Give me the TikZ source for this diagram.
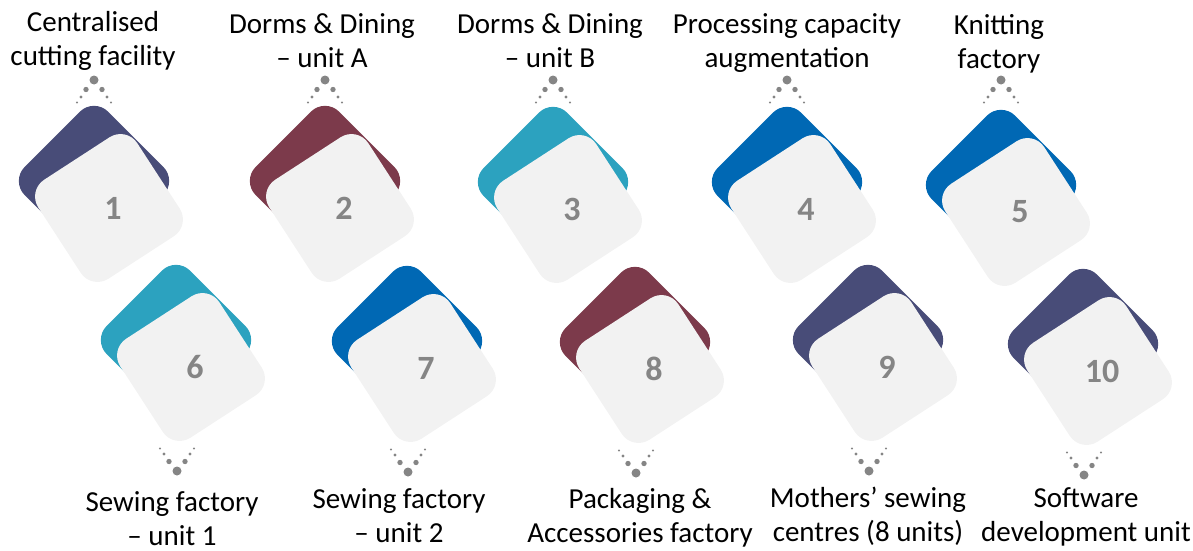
\documentclass[tikz,border=0pt]{standalone}
\usepackage{fontspec}
\setmainfont{Carlito}
\usepackage{xcolor}
\usepackage{tikz}
\usetikzlibrary{positioning}
\definecolor{TileNavy}{HTML}{484C78}
\definecolor{TileWine}{HTML}{7C3A4B}
\definecolor{TileTeal}{HTML}{2CA2BF}
\definecolor{TileBlue}{HTML}{0068B4}
\definecolor{TileGrey}{HTML}{F2F2F2}
\definecolor{DotGrey}{HTML}{858585}
% fan of dots, #1 = tip, #2 = 1 (opens downwards) or -1 (opens upwards)
\newcommand\peakdots[2]{%
  \fill[DotGrey] (#1) circle (4.5)
    ([shift={(-8,9.5*#2)}]#1) circle (2.7) ([shift={(8,9.5*#2)}]#1) circle (2.7)
    ([shift={(-13,17*#2)}]#1) circle (1.7) ([shift={(13,17*#2)}]#1) circle (1.7)
    ([shift={(-17,22.5*#2)}]#1) circle (1.1) ([shift={(17,22.5*#2)}]#1) circle (1.1);
}

\begin{document}
\begin{tikzpicture}[
      x=1pt, y=-1pt,
      back/.style={fill=#1, rounded corners=20pt, minimum size=118pt, inner sep=0pt, rotate=45},
      front/.style={fill=TileGrey, rounded corners=20pt, minimum size=118pt, inner sep=0pt, rotate=33},
      num/.style={font=\fontsize{34}{34}\selectfont\bfseries, text=DotGrey},
      caption/.style={align=center, anchor=base, inner sep=0pt, font=\fontsize{29}{34}\selectfont}
    ]
      \useasboundingbox (0,0) rectangle (1193,551);
      % upper row
      \foreach \i/\cx/\cy/\col in {1/94/181/TileNavy, 2/325/181/TileWine, 3/553/182/TileTeal, 4/787/182/TileBlue, 5/1001/185/TileBlue}{
        \node[back=\col] (c\i) at (\cx,\cy) {};
        \node[front] (g\i) at ([shift={(15,27)}]c\i.center) {};
        \node[num] (n\i) at ([shift={(4,0)}]g\i.center) {\i};
        \coordinate (d\i) at (\cx,80);
        \peakdots{d\i}{1}
      }
      % lower row
      \foreach \i/\cx/\cy/\col in {6/176/340/TileTeal, 7/407/341/TileBlue, 8/635/342/TileWine, 9/868/340/TileNavy, 10/1083/344/TileNavy}{
        \node[back=\col] (c\i) at (\cx,\cy) {};
        \node[front] (g\i) at ([shift={(15,27)}]c\i.center) {};
        \node[num] (n\i) at ([shift={(4,0)}]g\i.center) {\i};
        \coordinate (d\i) at ([shift={(1,131)}]c\i.center);
        \peakdots{d\i}{-1}
      }
      \node[caption] (t1) at (93,66) {Centralised\\cutting facility};
      \node[caption] (t2) at (322,67) {Dorms \& Dining\\– unit A};
      \node[caption] (t3) at (550,67) {Dorms \& Dining\\– unit B};
      \node[caption] (t4) at (787,67) {Processing capacity\\augmentation};
      \node[caption] (t5) at (999,69) {Knitting\\factory};
      \node[caption] (t6) at (172,545) {Sewing factory\\– unit 1};
      \node[caption] (t7) at (399,542) {Sewing factory\\– unit 2};
      \node[caption] (t8) at (640,542) {Packaging \&\\Accessories factory};
      \node[caption] (t9) at (868,541) {Mothers’ sewing\\centres (8 units)};
      \node[caption] (t10) at (1086,541) {Software\\development unit};
    \end{tikzpicture}
\end{document}
